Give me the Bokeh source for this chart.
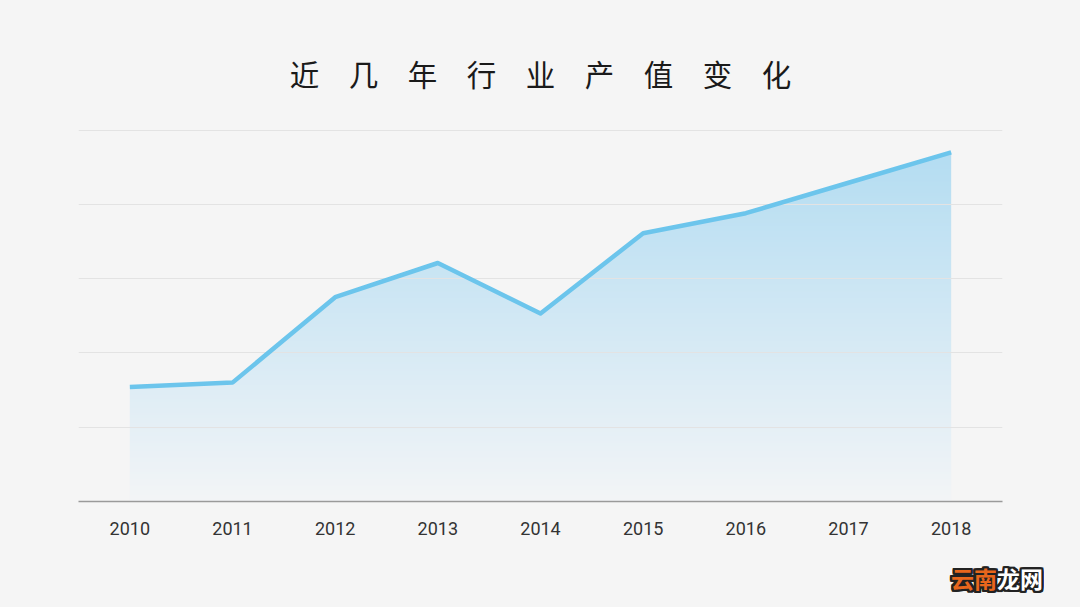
import numpy as np
from bokeh.plotting import figure
from bokeh.models import Range1d, FixedTicker, Div
from bokeh.layouts import column
from bokeh.embed import file_html
from bokeh.resources import INLINE

# ---- data ----
years = [2010, 2011, 2012, 2013, 2014, 2015, 2016, 2017, 2018]
output_values = [1.54, 1.60, 2.75, 3.21, 2.53, 3.61, 3.88, 4.29, 4.70]
year_labels = [str(y) for y in years]
grid_ticks = [1, 2, 3, 4, 5]
title_text = "近　几　年　行　业　产　值　变　化"
watermark_a = "云南"
watermark_b = "龙网"

BG = "#f5f5f5"
Y_TOP = 5.0
Y_END = Y_TOP + 1.5 / 74.2

p = figure(width=1080, height=566, output_backend="svg", toolbar_location=None,
           x_range=Range1d(2009.5, 2018.5), y_range=Range1d(0, Y_END),
           min_border_left=78, min_border_right=78, min_border_top=128, min_border_bottom=65)
p.background_fill_color = BG
p.border_fill_color = BG
p.outline_line_color = None

# title
p.title.text = title_text
p.title.align = "center"
p.title.text_font = "Noto Sans CJK SC"
p.title.text_font_size = "29.5px"
p.title.text_font_style = "normal"
p.title.text_color = "#1a1a1a"
p.title.standoff = 70

# gradient fill under the line (image + mask above the line)
n = 200
ymax = max(output_values)
t = np.linspace(0, 1, n)
bottom = np.array([243, 245, 247])
top = np.array([180, 221, 242])
cols = (bottom[None, :] * (1 - t[:, None]) + top[None, :] * t[:, None]).astype(np.uint32)
img = np.empty((n, 1), dtype=np.uint32)
view = img.view(dtype=np.uint8).reshape((n, 1, 4))
view[:, 0, 0] = cols[:, 0]
view[:, 0, 1] = cols[:, 1]
view[:, 0, 2] = cols[:, 2]
view[:, 0, 3] = 255
p.image_rgba(image=[img], x=years[0], y=0, dw=years[-1] - years[0], dh=ymax, level="image")

pad = 0.05
mask_x = [years[0] - pad] + list(years) + [years[-1] + pad, years[-1] + pad, years[0] - pad]
mask_y = [output_values[0]] + list(output_values) + [output_values[-1], Y_END + 0.1, Y_END + 0.1]
p.patch(mask_x, mask_y, fill_color=BG, line_color=None, level="image")

# line
p.line(years, output_values, line_color="#6cc5ec", line_width=4.5, line_join="round")

# axes & grid
p.yaxis.visible = False
p.yaxis.ticker = FixedTicker(ticks=grid_ticks)
p.ygrid.grid_line_color = "#e3e3e3"
p.ygrid.grid_line_width = 1
p.xgrid.visible = False

p.xaxis.ticker = FixedTicker(ticks=years)
p.xaxis.major_label_overrides = {y: s for y, s in zip(years, year_labels)}
p.xaxis.axis_line_color = "#9a9a9a"
p.xaxis.axis_line_width = 1.5
p.xaxis.major_tick_line_color = None
p.xaxis.minor_tick_line_color = None
p.xaxis.major_label_standoff = 14
p.xaxis.major_label_text_font = "Roboto"
p.xaxis.major_label_text_font_size = "18px"
p.xaxis.major_label_text_color = "#333333"

# watermark (bottom right)
outline = ", ".join("%dpx %dpx 0 #222" % (dx, dy)
                    for dx in (-2, -1, 0, 1, 2) for dy in (-2, -1, 0, 1, 2) if (dx, dy) != (0, 0))
wm_html = (
    '<div style="width:1043px;text-align:right;font-family:\'Noto Sans CJK SC\';'
    'font-weight:bold;font-size:23px;line-height:24px;letter-spacing:0px;'
    'text-shadow:%s;">'
    '<span style="color:#e8661c;">%s</span><span style="color:#ffffff;">%s</span></div>'
) % (outline, watermark_a, watermark_b)
wm = Div(text=wm_html, width=1080, height=41, styles={"background-color": BG, "margin": "0"})

layout = column(p, wm, spacing=0, styles={"background-color": BG})

html = file_html(layout, INLINE)
html = html.replace("<body>", '<body style="margin:0;background-color:%s;">' % BG, 1)
open("out.html", "w").write(html)
